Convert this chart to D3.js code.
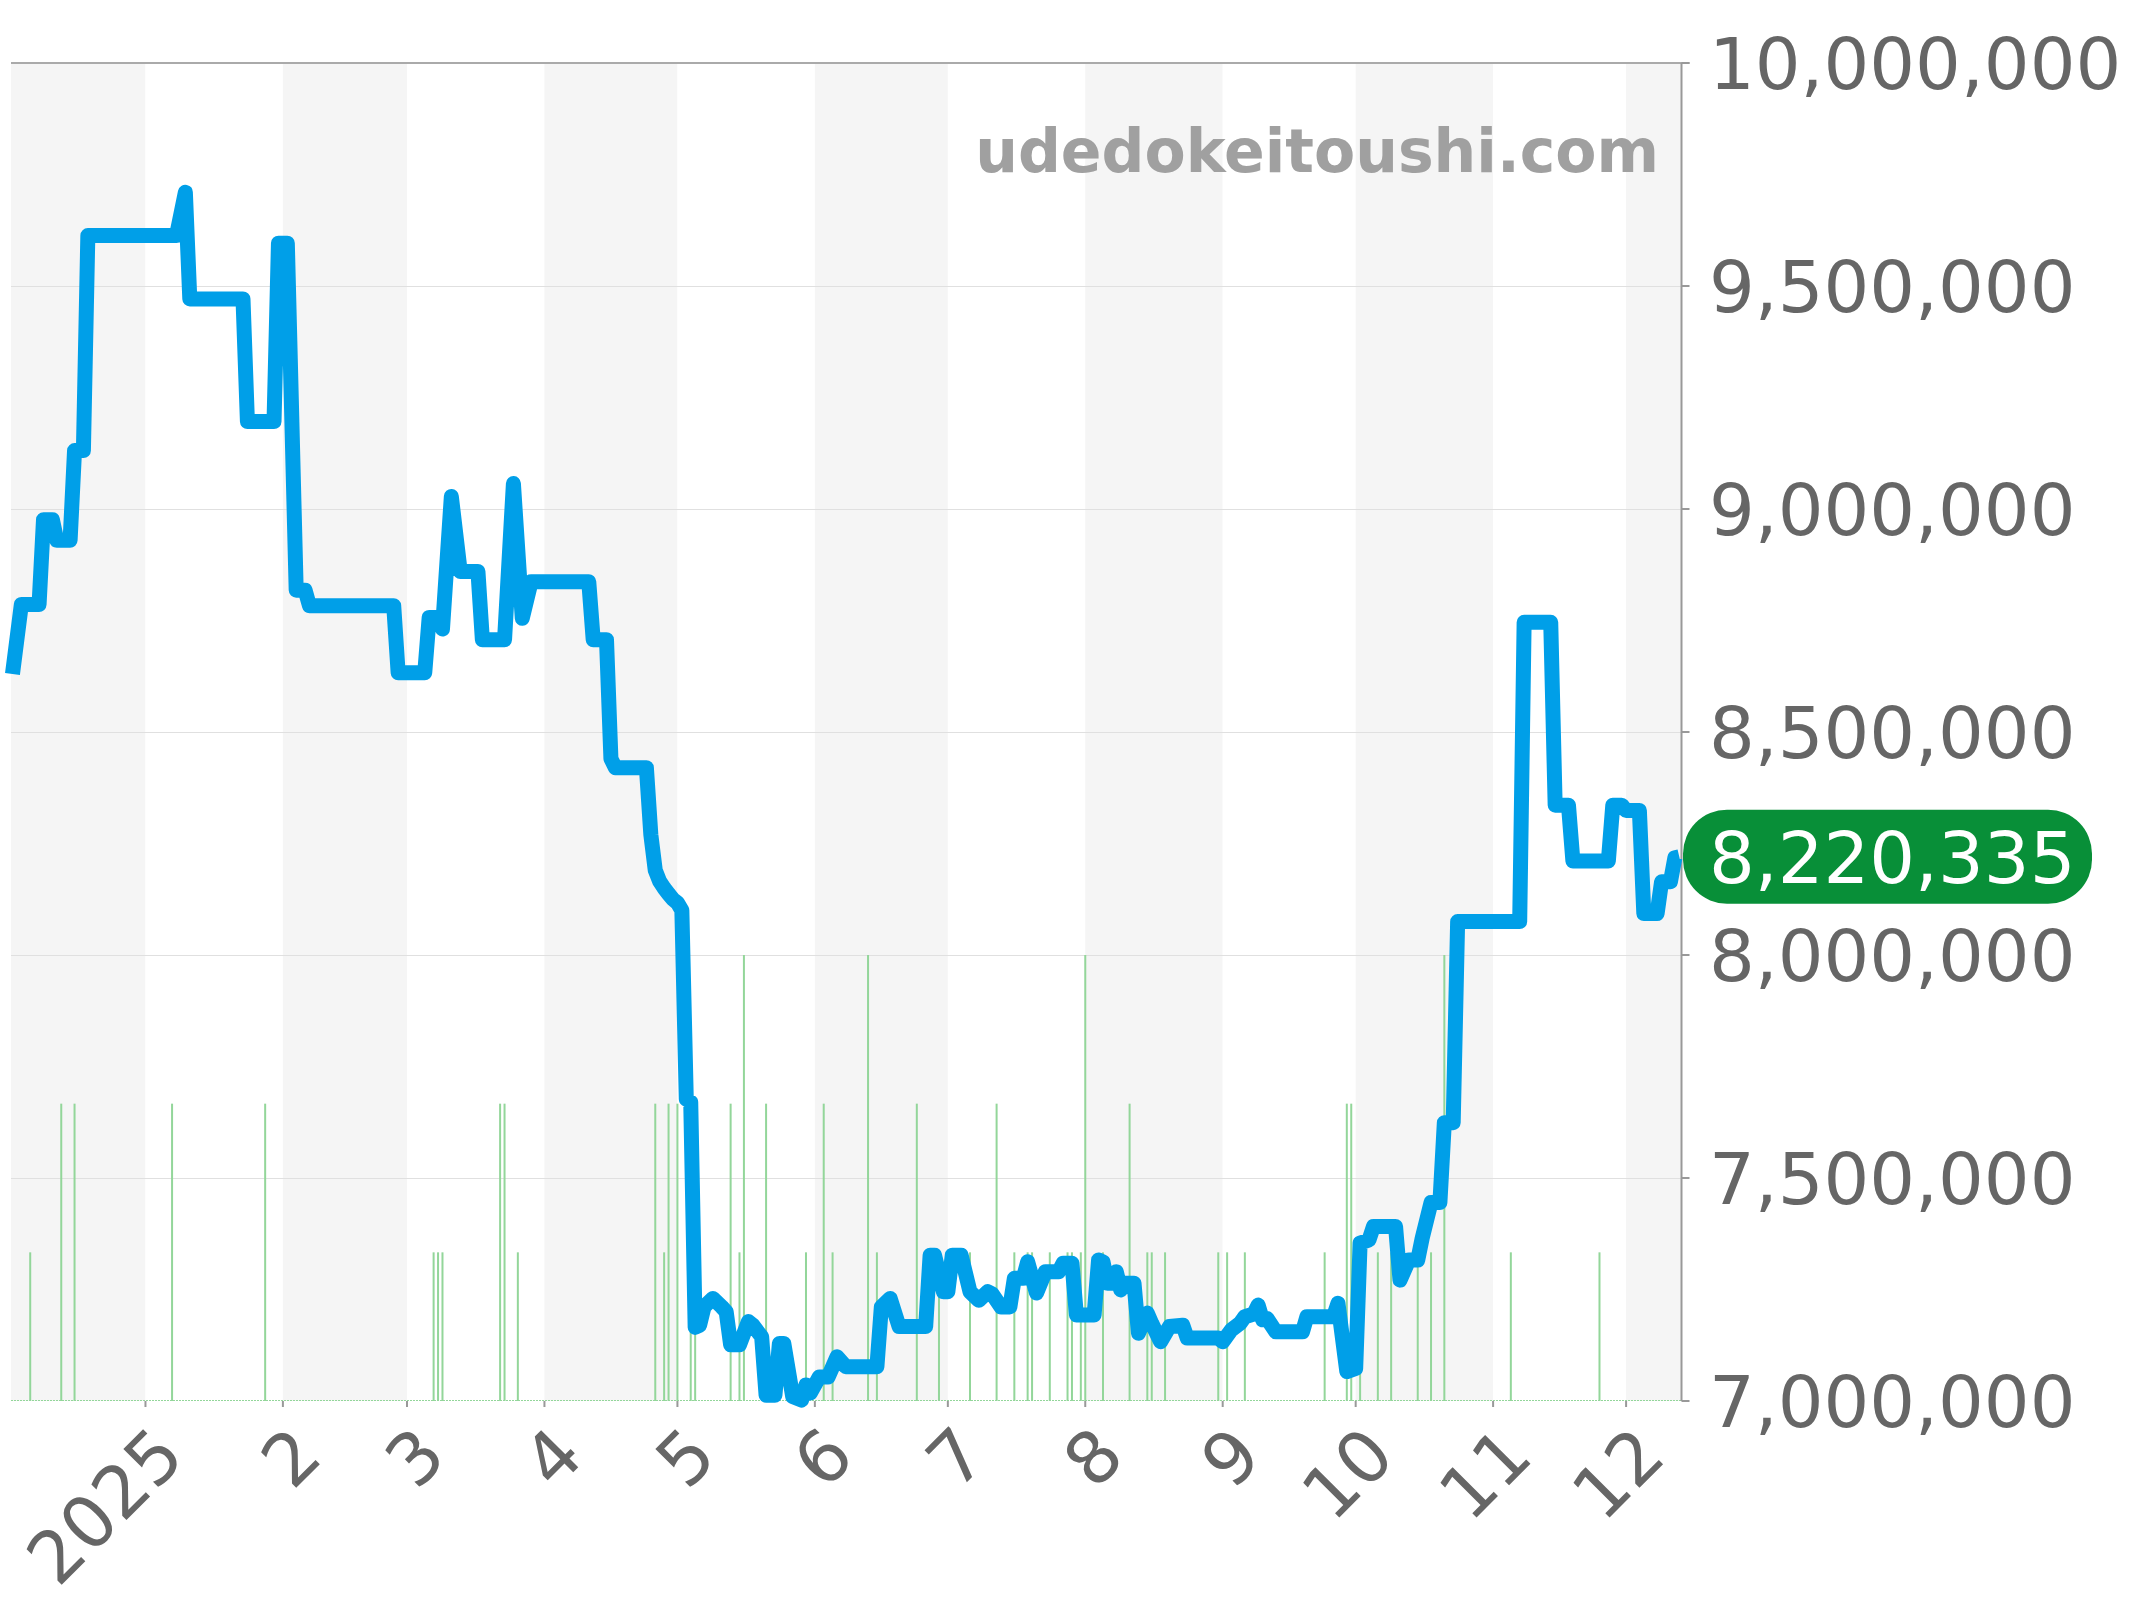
<!DOCTYPE html>
<html>
<head>
<meta charset="utf-8">
<script src="https://cdn.jsdelivr.net/npm/d3@7/dist/d3.min.js"></script>
<style>
  html, body { margin: 0; padding: 0; background: #fff; }
  svg { display: block; }
  text { font-family: "DejaVu Sans", sans-serif; }
</style>
</head>
<body>
<div id="chart"></div>
<script>
const WIDTH = 2144;
const HEIGHT = 1600;
const LEFT = 11, RIGHT = 1681.5, TOP = 63, BOTTOM = 1401;
const LINE_COLOR = "#009fe8";
const BAR_COLOR = "#93d69a";
const BADGE_COLOR = "#088f38";
const LABEL_COLOR = "#666";

// price series
const priceDates = [
  "2024-12-02","2024-12-04","2024-12-08","2024-12-09","2024-12-11","2024-12-12","2024-12-15","2024-12-16",
  "2024-12-18","2024-12-19","2025-01-08","2025-01-10","2025-01-11","2025-01-23","2025-01-24","2025-01-30",
  "2025-01-31","2025-02-02","2025-02-04","2025-02-06","2025-02-07","2025-02-26","2025-02-27","2025-03-05",
  "2025-03-06","2025-03-08","2025-03-09","2025-03-11","2025-03-13","2025-03-17","2025-03-18","2025-03-23",
  "2025-03-25","2025-03-27","2025-03-29","2025-04-11","2025-04-12","2025-04-15","2025-04-16","2025-04-17",
  "2025-04-24","2025-04-25","2025-04-26","2025-04-27","2025-04-28","2025-04-29","2025-04-30","2025-05-01",
  "2025-05-02","2025-05-03","2025-05-04","2025-05-05","2025-05-06","2025-05-07","2025-05-09","2025-05-11",
  "2025-05-12","2025-05-13","2025-05-15","2025-05-17","2025-05-18","2025-05-20","2025-05-21","2025-05-23",
  "2025-05-24","2025-05-25","2025-05-27","2025-05-29","2025-05-30","2025-05-31","2025-06-02","2025-06-04",
  "2025-06-06","2025-06-08","2025-06-15","2025-06-16","2025-06-18","2025-06-20","2025-06-26","2025-06-27",
  "2025-06-28","2025-06-30","2025-07-01","2025-07-02","2025-07-04","2025-07-06","2025-07-08","2025-07-10",
  "2025-07-11","2025-07-13","2025-07-15","2025-07-16","2025-07-18","2025-07-19","2025-07-21","2025-07-23",
  "2025-07-26","2025-07-27","2025-07-29","2025-07-30","2025-08-03","2025-08-04","2025-08-05","2025-08-06",
  "2025-08-07","2025-08-08","2025-08-09","2025-08-10","2025-08-12","2025-08-13","2025-08-15","2025-08-16",
  "2025-08-18","2025-08-20","2025-08-23","2025-08-24","2025-08-31","2025-09-01","2025-09-03","2025-09-05",
  "2025-09-06","2025-09-08","2025-09-09","2025-09-10","2025-09-11","2025-09-13","2025-09-19","2025-09-20",
  "2025-09-26","2025-09-27","2025-09-29","2025-10-01","2025-10-02","2025-10-04","2025-10-05","2025-10-10",
  "2025-10-11","2025-10-13","2025-10-15","2025-10-16","2025-10-18","2025-10-20","2025-10-21","2025-10-23",
  "2025-10-24","2025-11-07","2025-11-08","2025-11-14","2025-11-15","2025-11-18","2025-11-19","2025-11-27",
  "2025-11-28","2025-11-30","2025-12-01","2025-12-04","2025-12-05","2025-12-08","2025-12-09","2025-12-11",
  "2025-12-12","2025-12-13"
];
const priceValues = [
  8630000,8786000,8786000,8976000,8976000,8930000,8930000,9131000,
  9131000,9613000,9613000,9710000,9471000,9471000,9196000,9196000,
  9596000,9596000,8818000,8818000,8783000,8783000,8633000,8633000,
  8757000,8757000,8731000,9028000,8860000,8860000,8707000,8707000,
  9057000,8755000,8837000,8837000,8707000,8707000,8440000,8420000,
  8420000,8270000,8190000,8165000,8150000,8137000,8125000,8117000,
  8100000,7677000,7670000,7165000,7170000,7211000,7230000,7211000,
  7200000,7126000,7126000,7178000,7170000,7144000,7013000,7013000,
  7129000,7129000,7010000,7002000,7036000,7018000,7054000,7054000,
  7099000,7077000,7077000,7211000,7230000,7167000,7167000,7327000,
  7327000,7245000,7245000,7327000,7327000,7245000,7226000,7245000,
  7240000,7211000,7211000,7275000,7275000,7312000,7242000,7290000,
  7290000,7309000,7309000,7193000,7193000,7316000,7312000,7264000,
  7264000,7290000,7249000,7264000,7264000,7152000,7197000,7174000,
  7133000,7167000,7170000,7141000,7141000,7133000,7160000,7175000,
  7189000,7195000,7215000,7182000,7185000,7155000,7155000,7189000,
  7189000,7219000,7066000,7073000,7354000,7361000,7391000,7391000,
  7271000,7316000,7316000,7365000,7445000,7445000,7624000,7624000,
  8075000,8075000,8746000,8746000,8336000,8336000,8211000,8211000,
  8336000,8336000,8324000,8324000,8093000,8093000,8164000,8164000,
  8218000,8220335
];

// number of deals per day (green bars)
const volumeDates = [
  "2024-12-06","2024-12-13","2024-12-16","2025-01-07","2025-01-28","2025-03-07","2025-03-08","2025-03-09",
  "2025-03-22","2025-03-23","2025-03-26","2025-04-26","2025-04-28","2025-04-29","2025-05-01","2025-05-04",
  "2025-05-05","2025-05-13","2025-05-15","2025-05-16","2025-05-21","2025-05-30","2025-06-03","2025-06-05",
  "2025-06-13","2025-06-15","2025-06-24","2025-06-29","2025-07-06","2025-07-12","2025-07-16","2025-07-19",
  "2025-07-20","2025-07-24","2025-07-28","2025-07-29","2025-07-31","2025-08-01","2025-08-05","2025-08-11",
  "2025-08-15","2025-08-16","2025-08-19","2025-08-31","2025-09-02","2025-09-06","2025-09-24","2025-09-29",
  "2025-09-30","2025-10-02","2025-10-06","2025-10-09","2025-10-15","2025-10-18","2025-10-21","2025-11-05",
  "2025-11-25"
];
const volumeCounts = [
  1,2,2,2,2,1,1,1,
  2,2,1,2,1,2,2,1,
  1,2,1,3,2,1,2,1,
  3,1,2,1,1,2,1,1,
  1,1,1,1,1,3,1,2,
  1,1,1,1,1,1,1,2,
  2,1,1,1,1,1,3,1,
  1
];

const yTicks = [7000000, 7500000, 8000000, 8500000, 9000000, 9500000, 10000000];
const monthLabels = ["2025","2","3","4","5","6","7","8","9","10","11","12"];
const lastPrice = 8220335;
const watermark = "udedokeitoushi.com";

const parse = d3.timeParse("%Y-%m-%d");
const prices = priceDates.map((d, i) => ({date: parse(d), value: priceValues[i]}));
const volumes = volumeDates.map((d, i) => ({date: parse(d), count: volumeCounts[i]}));

const x = d3.scaleTime()
  .domain([new Date(2024, 11, 1, 16), new Date(2025, 11, 13, 12)])
  .range([LEFT, RIGHT]);
const y = d3.scaleLinear().domain([7000000, 10000000]).range([BOTTOM, TOP]);
const yVol = d3.scaleLinear().domain([0, 9]).range([BOTTOM, TOP]);
const fmt = d3.format(",");

const svg = d3.select("#chart").append("svg")
  .attr("width", WIDTH).attr("height", HEIGHT);

// month bands
const months = d3.timeMonth.range(new Date(2024, 11, 1), new Date(2026, 0, 1));
svg.append("g")
  .selectAll("rect")
  .data(months)
  .enter()
  .append("rect")
  .attr("x", d => Math.max(LEFT, x(d)))
  .attr("y", TOP)
  .attr("width", d => Math.max(0, Math.min(RIGHT, x(d3.timeMonth.offset(d, 1))) - Math.max(LEFT, x(d))))
  .attr("height", BOTTOM - TOP)
  .attr("fill", (d, i) => i % 2 === 0 ? "#f5f5f5" : "#fff");

// grid
svg.append("g")
  .selectAll("line")
  .data(yTicks.slice(1, -1))
  .enter()
  .append("line")
  .attr("x1", LEFT).attr("x2", RIGHT)
  .attr("y1", d => y(d) + 0.5).attr("y2", d => y(d) + 0.5)
  .attr("stroke", "#e0e0e0").attr("stroke-width", 1);

// top border
svg.append("line")
  .attr("x1", LEFT).attr("x2", RIGHT + 8)
  .attr("y1", y(10000000)).attr("y2", y(10000000))
  .attr("stroke", "#aaa").attr("stroke-width", 2);

// volume bars
svg.append("line")
  .attr("x1", LEFT).attr("x2", RIGHT)
  .attr("y1", BOTTOM - 0.5).attr("y2", BOTTOM - 0.5)
  .attr("stroke", BAR_COLOR).attr("stroke-width", 1)
  .attr("stroke-dasharray", "2,1");

svg.append("g")
  .selectAll("rect")
  .data(volumes)
  .enter()
  .append("rect")
  .attr("x", d => x(d.date) - 1)
  .attr("y", d => yVol(d.count))
  .attr("width", 2)
  .attr("height", d => BOTTOM - yVol(d.count))
  .attr("fill", BAR_COLOR);

// right axis
const axisG = svg.append("g");
axisG.append("line")
  .attr("x1", RIGHT).attr("x2", RIGHT)
  .attr("y1", TOP).attr("y2", BOTTOM)
  .attr("stroke", "#999").attr("stroke-width", 2);
axisG.selectAll("line.tick")
  .data(yTicks)
  .enter()
  .append("line")
  .attr("class", "tick")
  .attr("x1", RIGHT).attr("x2", RIGHT + 8)
  .attr("y1", d => y(d)).attr("y2", d => y(d))
  .attr("stroke", "#999").attr("stroke-width", 2);
axisG.selectAll("text")
  .data(yTicks)
  .enter()
  .append("text")
  .attr("x", 1709)
  .attr("y", d => y(d))
  .attr("dy", "0.36em")
  .attr("font-size", 72)
  .attr("fill", LABEL_COLOR)
  .text(d => fmt(d));

// bottom month ticks + labels
const monthTicks = d3.timeMonth.range(new Date(2025, 0, 1), new Date(2025, 11, 2));
const xg = svg.append("g");
xg.selectAll("line")
  .data(monthTicks)
  .enter()
  .append("line")
  .attr("x1", d => x(d)).attr("x2", d => x(d))
  .attr("y1", BOTTOM).attr("y2", BOTTOM + 6)
  .attr("stroke", "#999").attr("stroke-width", 2);
xg.selectAll("text")
  .data(monthTicks)
  .enter()
  .append("text")
  .attr("transform", d => `translate(${x(d) + 42},1459) rotate(-45)`)
  .attr("text-anchor", "end")
  .attr("font-size", 72)
  .attr("fill", LABEL_COLOR)
  .text((d, i) => monthLabels[i]);

// watermark
svg.append("text")
  .attr("x", 1659).attr("y", 172)
  .attr("text-anchor", "end")
  .attr("font-size", 60)
  .attr("font-weight", "bold")
  .attr("fill", "#a0a0a0")
  .text(watermark);

// price line
const line = d3.line().x(d => x(d.date)).y(d => y(d.value));
svg.append("path")
  .datum(prices)
  .attr("d", line)
  .attr("fill", "none")
  .attr("stroke", LINE_COLOR)
  .attr("stroke-width", 15)
  .attr("stroke-linejoin", "round");

// last price badge
const by = y(lastPrice);
svg.append("rect")
  .attr("x", 1683).attr("y", by - 47)
  .attr("width", 409).attr("height", 94)
  .attr("rx", 44).attr("ry", 44)
  .attr("fill", BADGE_COLOR);
svg.append("text")
  .attr("x", 1709).attr("y", by)
  .attr("dy", "0.36em")
  .attr("font-size", 72)
  .attr("fill", "#fff")
  .text(fmt(lastPrice));
</script>
</body>
</html>
